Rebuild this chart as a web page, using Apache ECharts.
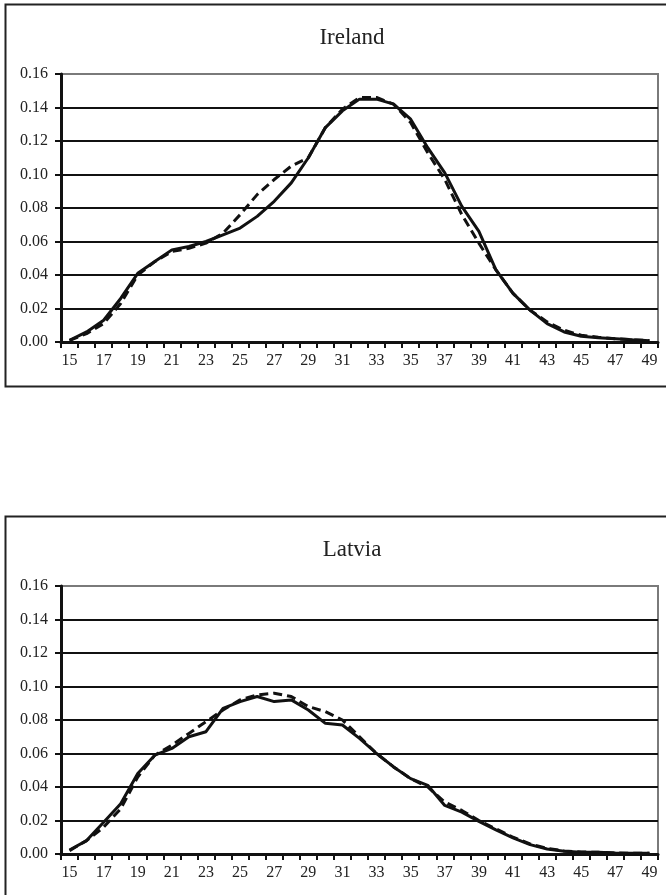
<!DOCTYPE html>
<html>
<head>
<meta charset="utf-8">
<script src="https://cdn.jsdelivr.net/npm/echarts@6/dist/echarts.min.js"></script>
<style>
html,body{margin:0;padding:0;background:#fff;}
#c{width:666px;height:895px;}
</style>
</head>
<body>
<div id="c"></div>
<script>
var ages = [];
for (var a = 15; a <= 49; a++) ages.push(String(a));
var yTicks = [0, 0.02, 0.04, 0.06, 0.08, 0.10, 0.12, 0.14, 0.16];

var irelandSolid = [0.001,0.006,0.013,0.026,0.041,0.048,0.055,0.057,0.060,0.064,0.068,0.075,0.084,0.095,0.110,0.128,0.138,0.145,0.145,0.142,0.133,0.116,0.101,0.081,0.066,0.043,0.029,0.019,0.011,0.006,0.0034,0.0026,0.002,0.0013,0.0008];
var irelandDashed = [0.001,0.005,0.011,0.023,0.040,0.048,0.054,0.056,0.059,0.065,0.076,0.088,0.097,0.105,0.110,0.128,0.139,0.146,0.146,0.142,0.131,0.113,0.097,0.076,0.059,0.043,0.029,0.019,0.012,0.007,0.004,0.0028,0.002,0.0013,0.0008];
var latviaSolid = [0.0024,0.008,0.019,0.030,0.048,0.059,0.063,0.070,0.073,0.087,0.091,0.094,0.091,0.092,0.086,0.078,0.077,0.069,0.060,0.052,0.045,0.041,0.029,0.025,0.0195,0.0144,0.0096,0.0056,0.003,0.0016,0.001,0.001,0.0006,0.0004,0.0004];
var latviaDashed = [0.002,0.008,0.016,0.027,0.046,0.059,0.065,0.072,0.079,0.086,0.092,0.095,0.096,0.094,0.088,0.085,0.080,0.070,0.060,0.052,0.045,0.040,0.031,0.026,0.020,0.015,0.010,0.006,0.0034,0.0018,0.0012,0.001,0.0006,0.0004,0.0004];

var titles = ['Ireland', 'Latvia'];
var FONT = '"Liberation Serif", "Times New Roman", serif';
var OFF = 512;

function gridDef(i) {
  return { left: 61, right: 8, top: 74 + i * OFF, height: 268, show: true, borderColor: '#7a7a7a', borderWidth: 2, backgroundColor: 'transparent' };
}
function xAxisDef(i) {
  return {
    type: 'category', gridIndex: i, data: ages, boundaryGap: true,
    axisLine: { lineStyle: { color: '#111', width: 3 } },
    axisTick: { show: true, interval: 0, length: 6, lineStyle: { color: '#111', width: 2 } },
    axisLabel: { interval: 1, margin: 11, color: '#222', fontFamily: FONT, fontSize: 16 },
    splitLine: { show: false }
  };
}
function yAxisDef(i) {
  return {
    type: 'value', gridIndex: i, min: 0, max: 0.16, interval: 0.02,
    axisLine: { show: true, lineStyle: { color: '#111', width: 3 } },
    axisTick: { show: true, length: 6, lineStyle: { color: '#111', width: 2 } },
    axisLabel: { margin: 13, color: '#222', fontFamily: FONT, fontSize: 16, formatter: function (v) { return v.toFixed(2); } },
    splitLine: { show: true, lineStyle: { color: ['#111','#111','#111','#111','#111','#111','#111','#111','#7a7a7a'], width: 2 } }
  };
}
function lineSeries(i, data, dashed) {
  return {
    type: 'line', xAxisIndex: i, yAxisIndex: i, data: data, showSymbol: false, symbol: 'none',
    smooth: false, z: dashed ? 3 : 4,
    lineStyle: { color: '#111', width: 3, type: dashed ? [9, 5] : 'solid' }
  };
}

var chart = echarts.init(document.getElementById('c'), null, { renderer: 'canvas', width: 666, height: 895 });
chart.setOption({
  animation: false,
  backgroundColor: '#fff',
  title: titles.map(function (t, i) {
    return { text: t, left: 347, textAlign: 'center', top: 21 + i * OFF, textStyle: { fontFamily: FONT, fontWeight: 'normal', fontSize: 23, color: '#222' } };
  }),
  graphic: [0, 1].map(function (i) {
    return { type: 'rect', shape: { x: 5.5, y: 4.5 + i * OFF, width: 700, height: 382 }, style: { fill: 'none', stroke: '#222', lineWidth: 2 }, silent: true, z: -1 };
  }),
  grid: [gridDef(0), gridDef(1)],
  xAxis: [xAxisDef(0), xAxisDef(1)],
  yAxis: [yAxisDef(0), yAxisDef(1)],
  series: [
    lineSeries(0, irelandDashed, true),
    lineSeries(0, irelandSolid, false),
    lineSeries(1, latviaDashed, true),
    lineSeries(1, latviaSolid, false)
  ]
});
</script>
</body>
</html>
